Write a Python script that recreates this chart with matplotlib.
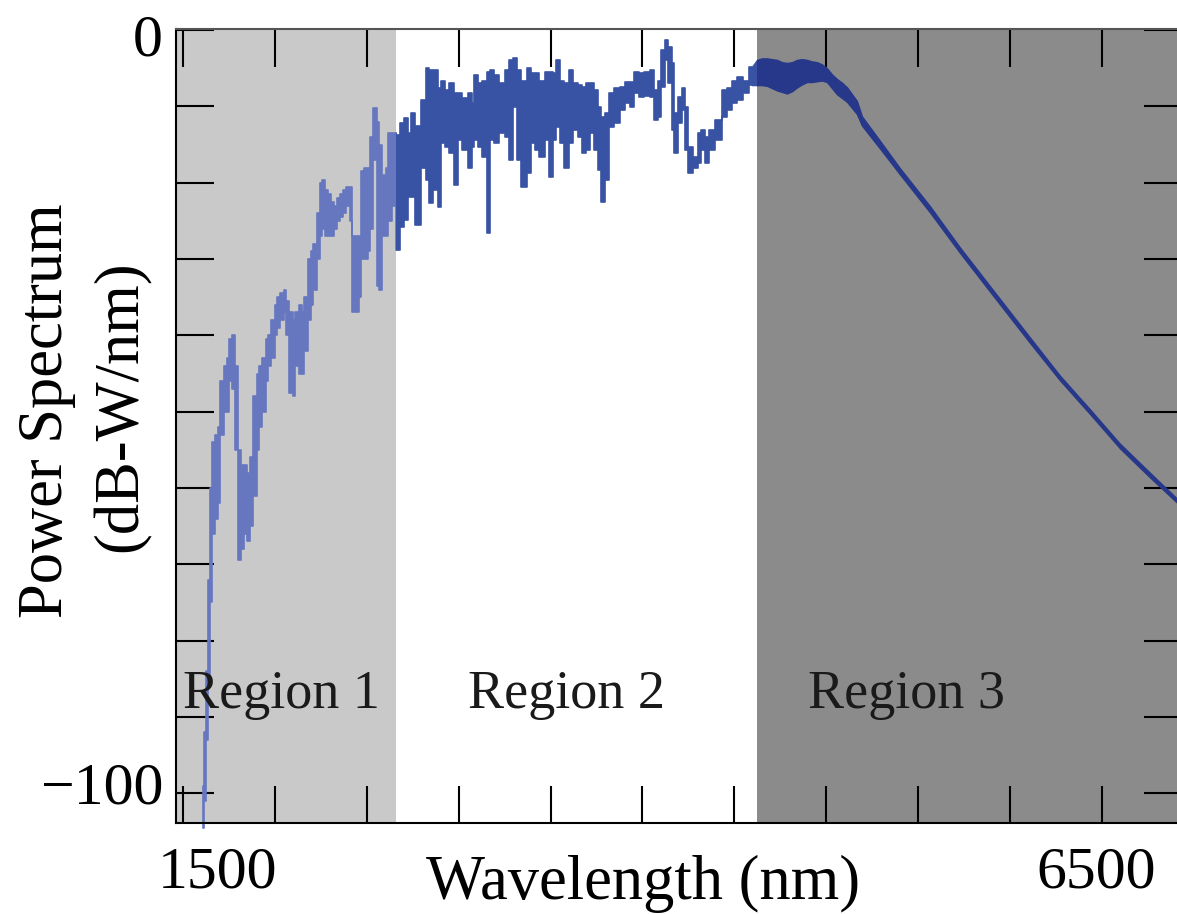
import matplotlib
matplotlib.use("Agg")
import matplotlib.pyplot as plt
from matplotlib.patches import Rectangle

# ---------------- data ----------------
# Region 1 spectrum: per-bin minimum / maximum (dB-W/nm)
region1_wavelength_nm = [1609, 1620, 1631, 1642, 1652, 1663, 1680, 1696, 1712, 1729,
                         1745, 1761, 1777, 1794, 1810, 1826, 1843, 1859, 1875, 1892,
                         1908, 1924, 1941, 1957, 1973, 1990, 2006, 2022, 2039, 2055,
                         2071, 2088, 2104, 2120, 2137, 2153, 2169, 2186, 2202, 2218,
                         2235, 2251, 2267, 2283, 2300, 2316, 2332, 2349, 2365, 2381,
                         2398, 2414, 2430, 2447, 2463, 2479, 2496, 2512, 2528, 2545,
                         2561, 2577, 2594, 2610, 2626, 2643]
region1_low_db = [-104.5, -101, -93, -86, -75, -66, -64, -62, -53, -50,
                  -50, -46, -47, -55, -69.5, -68, -66, -67, -65, -61,
                  -55, -52, -50, -46, -44, -43, -40, -39, -38, -37,
                  -40, -47.5, -48, -44, -45, -45, -42, -38, -36, -34,
                  -30, -27, -26, -27, -27, -27, -26, -25, -24.5, -24,
                  -23, -25, -37, -37, -35, -30, -30, -29, -26, -17,
                  -33.5, -34, -27, -27, -25, -23]
region1_high_db = [-99, -92, -84, -72, -60, -54, -53, -52, -46, -44,
                   -43, -40.5, -40, -44, -55, -57, -57, -58, -56, -48,
                   -45, -44, -43, -40.5, -40, -38, -36, -35, -34.5, -34,
                   -35.5, -37, -38, -37, -36, -37, -35, -30, -29, -28,
                   -24, -20, -19.7, -21, -21.5, -22.5, -23, -22, -21.5, -21,
                   -20.5, -20.5, -27, -27, -27, -18.5, -18, -18, -14, -10.2,
                   -12, -15, -19, -18, -13.5, -13.5]

# Region 2 spectrum
region2_wavelength_nm = [2670, 2692, 2713, 2735, 2751, 2779, 2806, 2833, 2849, 2877,
                         2898, 2915, 2936, 2964, 2985, 3007, 3034, 3062, 3078, 3094,
                         3116, 3143, 3160, 3181, 3208, 3236, 3263, 3285, 3306, 3328,
                         3355, 3383, 3404, 3426, 3453, 3481, 3502, 3524, 3540, 3562,
                         3589, 3611, 3633, 3660, 3682, 3704, 3725, 3747, 3769, 3785,
                         3807, 3834, 3861, 3889, 3916, 3943, 3970, 3997, 4025, 4052,
                         4074, 4095, 4112, 4128, 4150, 4166, 4182, 4204, 4221, 4237,
                         4259, 4286, 4313, 4329, 4351, 4378, 4416, 4449, 4476, 4503,
                         4531, 4563, 4596]
region2_high_db = [-13.8, -12.2, -11.5, -13.5, -10.9, -12.5, -9.2, -5.0, -5.2, -5.2,
                   -7.6, -6.6, -7.9, -6.9, -8.3, -8.3, -8.9, -8.3, -9.6, -5.9,
                   -6.9, -6.6, -5.5, -5.2, -5.9, -6.9, -5.2, -3.9, -3.7, -5.2,
                   -6.6, -5.0, -5.6, -5.6, -6.6, -5.5, -5.5, -5.6, -3.9, -6.6,
                   -6.9, -5.2, -6.9, -7.2, -7.5, -6.9, -6.9, -7.9, -10.1, -11.4,
                   -10.9, -8.3, -7.6, -7.5, -6.8, -6.8, -5.5, -5.6, -5.5, -5.2,
                   -7.9, -6.6, -2.6, -1.3, -2.2, -4.3, -10.9, -8.8, -7.6, -10.1,
                   -15.3, -16.6, -13.5, -13.1, -14.0, -13.1, -11.8, -7.9, -7.6, -6.6,
                   -6.2, -6.6, -4.8]
region2_low_db = [-28.8, -25.8, -24.9, -21.9, -21.9, -25.6, -18.0, -19.7, -22.7, -21.0,
                  -23.2, -14.8, -15.3, -16.1, -20.3, -14.4, -15.7, -18.0, -15.3, -14.4,
                  -15.3, -16.6, -26.6, -14.4, -14.8, -13.5, -14.0, -17.0, -10.1, -17.0,
                  -20.6, -18.7, -14.8, -15.7, -16.6, -14.4, -19.3, -14.4, -12.7, -14.8,
                  -18.0, -14.8, -13.1, -14.0, -16.1, -15.7, -13.5, -15.7, -18.3, -22.5,
                  -19.7, -12.7, -12.2, -10.5, -9.6, -10.1, -8.3, -8.8, -8.6, -8.8,
                  -11.8, -11.4, -7.5, -3.9, -6.9, -13.1, -16.1, -12.2, -10.5, -15.7,
                  -18.7, -18.0, -17.4, -15.7, -17.4, -15.7, -14.4, -11.4, -10.5, -9.6,
                  -9.2, -8.3, -7.2]

# Region 3 spectrum
region3_wavelength_nm = [4623, 4650, 4678, 4705, 4732, 4759, 4786, 4814, 4841, 4868,
                         4895, 4922, 4950, 4977, 5004, 5031, 5058, 5086, 5113, 5140,
                         5167, 5194, 5292, 5401, 5565, 5728, 5918, 6109, 6272, 6435,
                         6598, 6761, 6930]
region3_high_db = [-3.9, -3.7, -3.7, -3.8, -3.9, -4.2, -4.3, -4.2, -3.9, -3.8,
                   -3.9, -4.1, -4.2, -4.5, -5.0, -5.8, -6.4, -6.9, -7.5, -8.4,
                   -9.3, -11.3, -14.5, -18.1, -23.1, -28.5, -34.4, -40.3, -45.3, -49.7,
                   -54.2, -58.0, -61.9]
region3_low_db = [-7.2, -7.2, -7.3, -7.6, -7.9, -8.1, -8.3, -8.0, -7.5, -7.1,
                  -6.8, -6.8, -6.7, -6.6, -6.8, -7.6, -8.4, -8.9, -9.4, -10.2,
                  -11.0, -12.5, -15.5, -18.9, -23.9, -29.2, -35.1, -41.0, -45.9, -50.3,
                  -54.8, -58.6, -62.4]

region_labels = ["Region 1", "Region 2", "Region 3"]
region_edges_nm = [1462, 2659, 4623, 6930]
region_label_x_nm = [2033, 3589, 5434]
x_tick_values = [1500, 2000, 2500, 3000, 3500, 4000, 4500, 5000, 5500, 6000, 6500]
x_tick_labels = ["1500", "6500"]
y_tick_values = [0, -10, -20, -30, -40, -50, -60, -70, -80, -90, -100]
y_tick_labels = ["0", "\u2212100"]

# ---------------- styling ----------------
plt.rcParams['font.family'] = ['Liberation Serif', 'DejaVu Serif']
region_bg = ['#c9c9c9', None, '#8b8b8b']
trace_colors = ['#6677c0', '#3953a4', '#27388a']

fig = plt.figure(figsize=(11.77, 9.14), dpi=100)
ax = fig.add_axes([176/1177, 91/914, 1005/1177, 794/914])
ax.set_xlim(region_edges_nm[0], region_edges_nm[-1])
ax.set_ylim(-103.9, 0.15)

for i, bg in enumerate(region_bg):
    if bg is not None:
        ax.axvspan(region_edges_nm[i], region_edges_nm[i + 1], color=bg, lw=0, zorder=0)

noisy_x = region1_wavelength_nm + region2_wavelength_nm
noisy_lo = region1_low_db + region2_low_db
noisy_hi = region1_high_db + region2_high_db
tail_x = region2_wavelength_nm[-1:] + region3_wavelength_nm
tail_lo = region2_low_db[-1:] + region3_low_db
tail_hi = region2_high_db[-1:] + region3_high_db


def draw_band(x, lo, hi, step, lw):
    for i, col in enumerate(trace_colors):
        poly = ax.fill_between(x, lo, hi, step=step, facecolor=col,
                               edgecolor=col, lw=lw, zorder=2)
        clip = Rectangle((region_edges_nm[i], -200),
                         region_edges_nm[i + 1] - region_edges_nm[i], 400,
                         transform=ax.transData)
        poly.set_clip_path(clip)


draw_band(noisy_x, noisy_lo, noisy_hi, 'mid', 1.2)
draw_band(tail_x, tail_lo, tail_hi, None, 1.0)

for lbl, xpos in zip(region_labels, region_label_x_nm):
    ax.text(xpos, -88.8, lbl, ha='center', va='baseline', fontsize=39,
            color='#1a1a1a', zorder=5)

ax.set_xticks(x_tick_values)
ax.set_yticks(y_tick_values)
ax.tick_params(axis='both', which='major', direction='in', length=27, width=1.5,
               top=True, right=True, labelbottom=False, labelleft=False,
               color='black')
for sp in ax.spines.values():
    sp.set_linewidth(1.5)
    sp.set_zorder(4)
ax.spines['top'].set_color('#555555')

# tick labels and axis titles
fig.text(163/1177, (914-55)/914, y_tick_labels[0], ha='right', va='baseline', fontsize=43)
fig.text(163/1177, (914-803)/914, y_tick_labels[1], ha='right', va='baseline', fontsize=43)
fig.text(217/1177, (914-888)/914, x_tick_labels[0], ha='center', va='baseline', fontsize=43)
fig.text(1096/1177, (914-888)/914, x_tick_labels[1], ha='center', va='baseline', fontsize=43)
fig.text(643/1177, (914-899)/914, "Wavelength (nm)", ha='center', va='baseline', fontsize=45)
fig.text(47/1177, (914-411)/914, "Power Spectrum", ha='center', va='center',
         rotation=90, fontsize=45)
fig.text(122/1177, (914-406)/914, "(dB-W/nm)", ha='center', va='center',
         rotation=90, fontsize=45)

fig.savefig("out.png", dpi=100)
